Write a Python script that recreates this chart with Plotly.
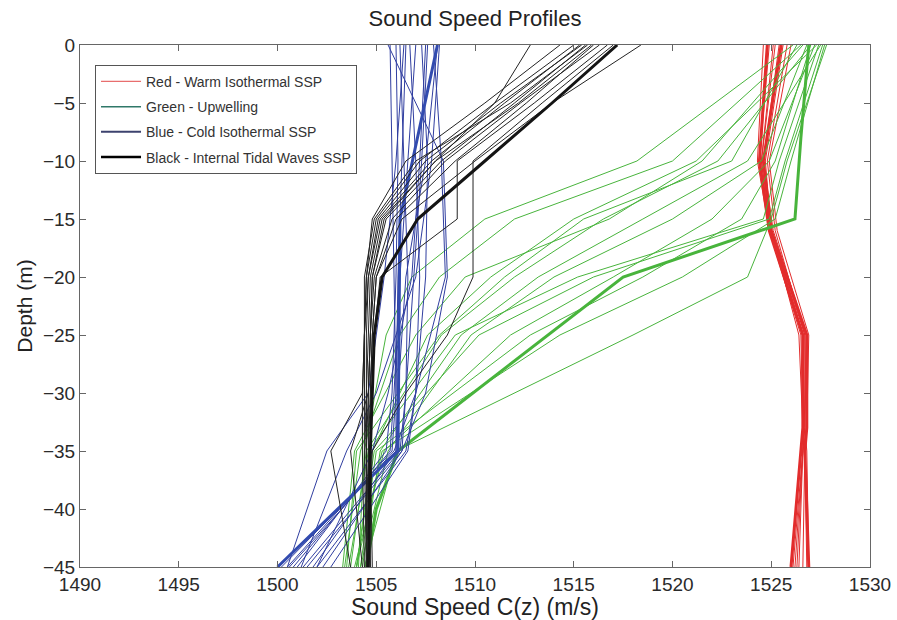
import plotly.graph_objects as go

# ---------------- data ----------------
# Red - warm isothermal profiles
red_depths = [0, -10, -16, -25, -33, -35, -45]
red_speeds = [
    [1524.6, 1524.3, 1524.9, 1526.6, 1526.6, 1526.5, 1526.0],
    [1524.9, 1524.4, 1525.0, 1526.7, 1526.7, 1526.6, 1526.2],
    [1525.2, 1524.5, 1524.9, 1526.5, 1526.6, 1526.7, 1526.8],
    [1525.4, 1524.6, 1525.1, 1526.8, 1526.7, 1526.6, 1526.3],
    [1525.6, 1524.7, 1525.0, 1526.6, 1526.7, 1526.8, 1526.9],
    [1525.8, 1524.8, 1525.2, 1526.7, 1526.8, 1526.6, 1526.1],
    [1526.0, 1524.9, 1525.3, 1526.9, 1526.8, 1526.7, 1526.6],
    [1525.1, 1524.5, 1525.0, 1526.4, 1526.6, 1526.6, 1526.4],
]
red_thick_speeds = [
    [1525.5, 1524.6, 1525.0, 1526.8, 1526.8, 1526.7, 1526.9],
    [1524.8, 1524.4, 1524.9, 1526.6, 1526.6, 1526.5, 1526.0],
]

# Green - upwelling profiles
green_depths = [0, -10, -15, -20, -25, -35, -45]
green_speeds = [
    [1526.1, 1518.2, 1510.5, 1506.8, 1505.5, 1504.4, 1504.1],
    [1527.3, 1521.2, 1515.0, 1510.8, 1507.6, 1504.8, 1504.0],
    [1527.0, 1522.3, 1516.5, 1512.0, 1508.3, 1504.5, 1503.7],
    [1527.5, 1523.8, 1518.5, 1513.2, 1509.3, 1505.2, 1504.3],
    [1527.6, 1525.7, 1524.9, 1516.0, 1510.2, 1504.9, 1504.0],
    [1527.4, 1525.4, 1524.6, 1515.2, 1509.0, 1504.6, 1503.6],
    [1527.8, 1525.8, 1525.0, 1523.8, 1518.0, 1506.0, 1504.4],
    [1526.8, 1524.5, 1520.0, 1514.0, 1509.8, 1505.6, 1504.2],
    [1526.5, 1520.0, 1512.0, 1508.2, 1506.2, 1504.2, 1503.4],
    [1527.2, 1524.9, 1522.0, 1517.0, 1511.8, 1505.4, 1503.9],
    [1526.3, 1523.0, 1515.5, 1511.5, 1508.2, 1504.0, 1503.5],
    [1527.0, 1525.2, 1523.5, 1518.5, 1512.8, 1505.0, 1504.2],
    [1526.6, 1521.5, 1516.8, 1509.5, 1507.0, 1503.9, 1503.3],
    [1527.7, 1526.0, 1525.2, 1520.5, 1514.3, 1505.3, 1504.0],
]
green_thick_depths = [0, -8, -15, -20, -35, -40, -45]
green_thick_speeds = [1526.9, 1526.5, 1526.2, 1517.5, 1506.1, 1505.0, 1504.5]

# Blue - cold isothermal profiles
blue_depths = [0, -10, -20, -30, -35, -45]
blue_speeds = [
    [1505.7, 1505.8, 1505.9, 1506.0, 1505.8, 1500.5],
    [1506.0, 1506.1, 1506.0, 1505.8, 1505.5, 1501.0],
    [1506.2, 1506.4, 1506.6, 1506.5, 1506.3, 1501.5],
    [1506.5, 1506.3, 1506.1, 1506.0, 1506.0, 1500.2],
    [1506.7, 1507.0, 1507.2, 1507.0, 1506.5, 1502.0],
    [1507.0, 1506.6, 1506.2, 1505.9, 1505.7, 1500.8],
    [1507.3, 1507.6, 1507.5, 1507.0, 1506.6, 1502.7],
    [1507.6, 1507.3, 1506.9, 1506.5, 1506.2, 1501.3],
    [1507.9, 1508.3, 1508.5, 1507.0, 1505.9, 1500.6],
    [1508.1, 1507.5, 1506.5, 1506.1, 1506.0, 1501.8],
    [1505.6, 1508.4, 1508.6, 1507.5, 1506.3, 1502.3],
    [1508.2, 1507.8, 1507.0, 1505.0, 1503.5, 1501.2],
    [1506.4, 1506.0, 1505.4, 1504.6, 1502.5, 1500.5],
    [1507.5, 1507.2, 1506.8, 1505.6, 1504.8, 1502.0],
]
blue_thick_depths = [0, -15, -35, -45]
blue_thick_speeds = [1508.1, 1506.2, 1506.1, 1500.0]

# Black - internal tidal wave profiles
black_depths = [0, -5, -10, -15, -20, -25, -30, -35, -45]
black_speeds = [
    [1515.0, 1511.0, 1507.2, 1505.0, 1504.5, 1504.4, 1504.3, 1504.3, 1504.4],
    [1515.3, 1511.5, 1507.8, 1505.2, 1504.6, 1504.5, 1504.5, 1504.5, 1504.5],
    [1515.6, 1512.0, 1508.3, 1505.5, 1504.8, 1504.7, 1504.6, 1504.6, 1504.6],
    [1515.7, 1511.8, 1507.0, 1504.9, 1504.4, 1504.4, 1504.4, 1504.5, 1504.7],
    [1516.0, 1512.6, 1509.0, 1506.0, 1505.0, 1504.8, 1504.7, 1504.7, 1504.8],
    [1516.3, 1512.3, 1508.5, 1505.8, 1504.9, 1504.7, 1504.6, 1504.5, 1504.5],
    [1516.7, 1513.0, 1509.1, 1509.1, 1505.2, 1504.9, 1504.8, 1504.7, 1504.7],
    [1517.0, 1513.4, 1509.9, 1509.9, 1509.9, 1508.6, 1506.5, 1504.8, 1504.6],
    [1518.4, 1513.9, 1510.0, 1506.3, 1505.0, 1504.8, 1504.7, 1504.6, 1504.6],
    [1512.8, 1511.0, 1508.0, 1505.3, 1504.7, 1504.6, 1504.5, 1504.5, 1504.6],
    [1515.4, 1511.3, 1507.5, 1505.1, 1504.6, 1504.4, 1504.3, 1502.7, 1503.7],
    [1515.9, 1512.2, 1508.0, 1505.4, 1504.8, 1504.7, 1504.6, 1503.7, 1504.3],
    [1514.3, 1510.5, 1506.5, 1504.8, 1504.5, 1504.4, 1504.4, 1504.4, 1504.5],
]
black_thick_depths = [0, -5, -10, -15, -20, -25, -35, -45]
black_thick_speeds = [1517.2, 1513.9, 1510.5, 1507.1, 1505.3, 1504.9, 1504.7, 1504.6]

legend_names = ["Red - Warm Isothermal SSP", "Green - Upwelling",
                "Blue - Cold Isothermal SSP", "Black - Internal Tidal Waves SSP"]

# ---------------- styles ----------------
RED = "rgb(226,44,44)"
GREEN = "rgb(72,180,60)"
BLUE = "rgb(48,62,160)"
BLACK = "rgb(20,20,20)"
FONT = "Liberation Sans, Arial, sans-serif"

fig = go.Figure()


def add(xs, ys, color, width):
    fig.add_trace(go.Scatter(x=xs, y=ys, mode="lines", showlegend=False,
                             hoverinfo="skip",
                             line=dict(color=color, width=width)))


for s in red_speeds:
    add(s, red_depths, RED, 1)
for s in red_thick_speeds:
    add(s, red_depths, RED, 3)

for s in green_speeds:
    add(s, green_depths, GREEN, 1)
add(green_thick_speeds, green_thick_depths, GREEN, 3)

for s in blue_speeds:
    add(s, blue_depths, BLUE, 1)
add(blue_thick_speeds, blue_thick_depths, "rgb(50,75,175)", 3)

for s in black_speeds:
    add(s, black_depths, "rgb(35,35,35)", 1)
add(black_thick_speeds, black_thick_depths, BLACK, 3)

# legend-only entries
legend_colors = ["rgb(232,110,110)", "rgb(48,120,105)", "rgb(60,66,110)", "black"]
legend_widths = [1.2, 1.5, 2, 2.5]
for i, (n, c, w) in enumerate(zip(legend_names, legend_colors, legend_widths)):
    fig.add_trace(go.Scatter(x=[None], y=[None], mode="lines", name=n,
                             legendgroup=f"g{i}",
                             line=dict(color=c, width=w)))

axis_common = dict(showline=True, linecolor="#666", linewidth=1, mirror="ticks",
                   ticks="inside", ticklen=6, tickcolor="#666", showgrid=False,
                   zeroline=False, automargin=False,
                   tickfont=dict(family=FONT, size=19, color="#2a2a2a"))

fig.update_layout(
    width=897, height=620,
    paper_bgcolor="white", plot_bgcolor="white",
    margin=dict(l=80, r=27, t=45, b=53),
    font=dict(family=FONT, color="#222"),
    title=dict(text="Sound Speed Profiles", x=0.5, xref="paper",
               y=1 - 18 / 620, yref="container", yanchor="middle",
               font=dict(family=FONT, size=22, color="#222")),
    xaxis=dict(range=[1490, 1530], tickmode="array",
               tickvals=list(range(1490, 1531, 5)),
               title=dict(text="Sound Speed C(z) (m/s)", standoff=2,
                          font=dict(family=FONT, size=23, color="#222")),
               **axis_common),
    yaxis=dict(range=[-45, 0], tickmode="array",
               tickvals=list(range(-45, 1, 5)),
               title=dict(text="Depth (m)", standoff=4,
                          font=dict(family=FONT, size=21, color="#222")),
               **axis_common),
    legend=dict(x=0.019, y=0.962, xanchor="left", yanchor="top",
                bgcolor="white", bordercolor="#555", borderwidth=1,
                font=dict(family=FONT, size=14, color="#333"),
                itemwidth=40, tracegroupgap=4, traceorder="grouped"),
)

fig.write_html("out.html")
